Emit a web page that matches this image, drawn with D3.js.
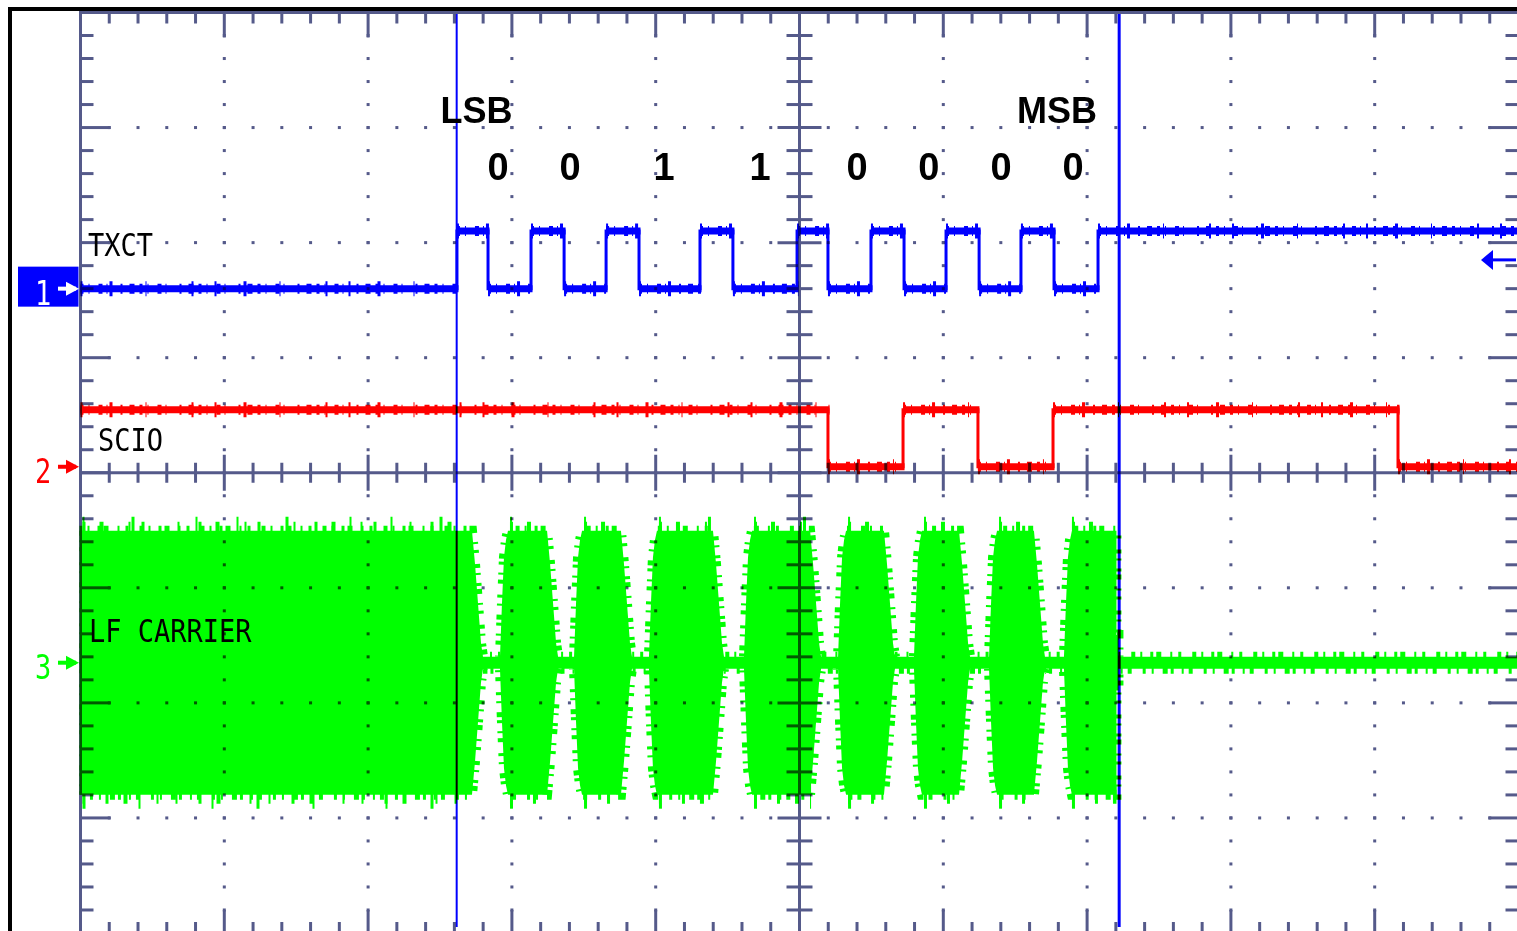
<!DOCTYPE html>
<html lang="en">
<head>
<meta charset="UTF-8">
<title>TXCT / SCIO / LF carrier</title>
<script src="https://cdn.jsdelivr.net/npm/d3@7/dist/d3.min.js"></script>
<style>
    html, body { margin: 0; padding: 0; background: #fff; overflow: hidden; }
    .scope { font-family: "DejaVu Sans Mono", "Liberation Mono", monospace; font-size: 27px; }
    .note { font-family: "Liberation Sans", Arial, sans-serif; font-weight: bold; }
</style>
</head>
<body>
<svg id="mainsvg" width="1517" height="931"></svg>
<script>
    // time in divisions (0..10), levels in divisions (-4..4, 0 = centre line)
    const txctEdges = [2.618, 2.834, 3.133, 3.363, 3.655, 3.884, 4.308, 4.537, 4.983,
                       5.198, 5.497, 5.727, 6.019, 6.249, 6.540, 6.770, 7.076];
    const txctLevels = [1.60, 2.10];          // low, high
    const scioEdges = [5.198, 5.720, 6.241, 6.763, 9.162];
    const scioLevels = [0.547, 0.052];        // starts high, then low
    const carrierCentre = -1.651;
    const carrierAmp = 1.147;
    const carrierIdle = 0.052;
    const carrierBursts = [[0, 2.792], [2.931, 3.314], [3.446, 3.828], [3.967, 4.468],
                           [4.628, 5.143], [5.282, 5.657], [5.810, 6.179], [6.332, 6.700],
                           [6.853, 7.211]];   // last one is cut off at the cursor
    const cursors = [2.616, 7.223];
    const bitValues = ['0', '0', '1', '1', '0', '0', '0', '0'];
    const bitPos = [2.903, 3.404, 4.058, 4.725, 5.400, 5.900, 6.401, 6.902];
    const byteEnds = ['LSB', 'MSB'];
    const byteEndPos = [2.754, 6.791];
    const channelNames = ['TXCT', 'SCIO', 'LF CARRIER'];
    const channelNamePos = [[0.052, 1.885], [0.122, 0.191], [0.059, -1.468]];
    const channelGround = [1.60, 0.052, -1.651];
    const triggerLevel = 1.85;

    const svg = d3.select('#mainsvg');
    const width = +svg.attr('width');
    const height = +svg.attr('height');
    const x = d3.scaleLinear().domain([0, 10]).range([80.5, 1518.5]);
    const y = d3.scaleLinear().domain([-4, 4]).range([933, 12.5]);

    const gridColor = '#555a8a';
    const colors = ['#0000ff', '#ff0000', '#00ff00'];

    svg.append('rect').attr('width', width).attr('height', height).attr('fill', '#fff');

    // screen frame
    svg.append('path').attr('d', `M10,${height} V9 H${width}`)
        .attr('fill', 'none').attr('stroke', '#000').attr('stroke-width', 4);

    svg.append('clipPath').attr('id', 'plotclip')
        .append('rect').attr('x', x(0) - 1).attr('y', y(4)).attr('width', width).attr('height', height);

    const traces = svg.append('g').attr('clip-path', 'url(#plotclip)');

    // ---- channel 3: LF carrier
    const cy = y(carrierCentre);
    const A = y(0) - y(carrierAmp);
    const I = y(0) - y(carrierIdle);
    const env = [];
    const plateaus = [];
    carrierBursts.forEach(([on, off], i) => {
        const a = x(on), b = x(off);
        let p0;
        if (on <= 0) { env.push([x(0) - 2, A]); p0 = x(0); }
        else {
            env.push([a - 2, I], [a, 0.45 * A], [a + 2, 0.8 * A], [a + 4, 0.93 * A], [a + 6, A]);
            p0 = a + 6;
        }
        if (i === carrierBursts.length - 1) {
            env.push([b - 1, A], [b - 1, 0.21 * A], [b + 1, 0.21 * A], [b + 1, I]);
            plateaus.push([p0, b - 1]);
        } else {
            env.push([b - 10, A], [b - 7, 0.75 * A], [b - 4, 0.45 * A], [b - 1, 0.15 * A], [b + 1, I]);
            plateaus.push([p0 + 2, b - 9]);
        }
    });
    env.push([width + 5, I]);
    const outline = env.map(([px, h]) => [px, cy - h])
        .concat(env.slice().reverse().map(([px, h]) => [px, cy + h]));
    const area = d3.line()(outline) + 'Z';
    traces.append('path').attr('d', area).attr('fill', colors[2]);
    traces.append('path').attr('d', area).attr('fill', 'none').attr('stroke', colors[2])
        .attr('stroke-width', 10).attr('stroke-dasharray', '4 5 2 8 3 3 5 9 2 6 3 11');
    // taller spikes only on the burst tops and bottoms
    const spikeG = traces.append('g').attr('stroke', colors[2]).attr('fill', 'none');
    [-1, 1].forEach(s => {
        spikeG.selectAll(null).data(plateaus).join('line')
            .attr('x1', d => d[0]).attr('x2', d => d[1])
            .attr('y1', cy + s * A).attr('y2', cy + s * A)
            .attr('stroke-width', 18)
            .attr('stroke-dasharray', s < 0 ? '3 14 4 25 2 11 3 33 2 19' : '2 21 3 15 4 29 2 17');
        spikeG.selectAll(null).data(plateaus).join('line')
            .attr('x1', d => d[0]).attr('x2', d => d[1])
            .attr('y1', cy + s * A).attr('y2', cy + s * A)
            .attr('stroke-width', 28)
            .attr('stroke-dasharray', s < 0 ? '2 47 3 61 2 39' : '3 53 2 71 2 43');
    });

    // ---- step traces
    function drawStep(edges, levels, color) {
        const pts = [[0, levels[0]]];
        edges.forEach((e, i) => pts.push([e, levels[(i + 1) % 2]]));
        pts.push([10.2, pts[pts.length - 1][1]]);
        const line = d3.line().x(d => x(d[0])).y(d => y(d[1])).curve(d3.curveStepAfter);
        traces.append('path').attr('d', line(pts)).attr('fill', 'none')
            .attr('stroke', color).attr('stroke-width', 3);
        const segs = pts.slice(0, -1).map((p, i) => [p[0], pts[i + 1][0], p[1]]);
        const g = traces.append('g').attr('stroke', color).attr('fill', 'none');
        const seg = (w, dash) => g.selectAll(null).data(segs).join('line')
            .attr('x1', d => x(d[0])).attr('x2', d => x(d[1]) + 1.5)
            .attr('y1', d => y(d[2])).attr('y2', d => y(d[2]))
            .attr('stroke-width', w).attr('stroke-dasharray', dash);
        seg(7, null);
        seg(10, '3 5 1 9 4 4 1 13 2 7 5 5');
        seg(15, '2 27 3 33 1 45 2 21');
    }
    drawStep(scioEdges, scioLevels, colors[1]);
    drawStep(txctEdges, txctLevels, colors[0]);

    // ---- graticule (multiplied over the traces, like the scope display)
    const grid = svg.append('g').style('mix-blend-mode', 'multiply')
        .attr('stroke', gridColor).attr('fill', gridColor).attr('stroke-width', 3);
    const isMajor = v => Math.abs(v - Math.round(v)) < 1e-6;
    const minorX = d3.range(51).map(i => i * 0.2);
    const minorY = d3.range(41).map(i => -4 + i * 0.2);
    const innerX = minorX.filter(v => v > 0.01 && v < 9.99);
    const innerY = minorY.filter(v => v > -3.99 && v < 3.99);

    grid.append('rect').attr('x', x(0)).attr('y', y(4)).attr('width', x(10) - x(0))
        .attr('height', y(-4) - y(4)).attr('fill', 'none');
    grid.append('line').attr('x1', x(5)).attr('x2', x(5)).attr('y1', y(4)).attr('y2', y(-4));
    grid.append('line').attr('x1', x(0)).attr('x2', x(10)).attr('y1', y(0)).attr('y2', y(0));

    const ticks = (data, f) => grid.selectAll(null).data(data).join('line').each(function (v) {
        const [x1, y1, x2, y2] = f(v);
        d3.select(this).attr('x1', x1).attr('y1', y1).attr('x2', x2).attr('y2', y2);
    });
    ticks(innerY, v => [x(0), y(v), x(0) + (isMajor(v) ? 30 : 13), y(v)]);
    ticks(innerY, v => [x(10), y(v), x(10) - (isMajor(v) ? 30 : 13), y(v)]);
    ticks(innerX, v => [x(v), y(4), x(v), y(4) + (isMajor(v) ? 25 : 11)]);
    ticks(innerX, v => [x(v), y(-4), x(v), y(-4) - (isMajor(v) ? 23 : 11)]);
    ticks(innerY, v => { const l = isMajor(v) ? 22 : 13; return [x(5) - l, y(v), x(5) + l, y(v)]; });
    ticks(innerX, v => { const l = isMajor(v) ? 18 : 10; return [x(v), y(0) - l, x(v), y(0) + l]; });

    const dots = [];
    innerX.filter(isMajor).filter(v => v !== 5).forEach(vx => innerY.forEach(vy => dots.push([vx, vy])));
    innerY.filter(isMajor).filter(v => Math.abs(v) > 0.01).forEach(vy => innerX.forEach(vx => dots.push([vx, vy])));
    grid.selectAll(null).data(dots).join('rect')
        .attr('stroke', 'none')
        .attr('x', d => x(d[0]) - 1.5).attr('y', d => y(d[1]) - 1.5)
        .attr('width', 3).attr('height', 3);

    // ---- cursors
    svg.append('g').style('mix-blend-mode', 'multiply')
        .selectAll('line').data(cursors).join('line')
        .attr('x1', d => x(d)).attr('x2', d => x(d))
        .attr('y1', y(4) + 1.5).attr('y2', 927)
        .attr('stroke', colors[0]).attr('stroke-width', (d, i) => i === 0 ? 2 : 3);

    // ---- channel names
    svg.append('g').attr('class', 'scope').selectAll('text').data(channelNames).join('text')
        .attr('transform', (d, i) => `translate(${x(channelNamePos[i][0])},${y(channelNamePos[i][1])}) scale(1,1.17)`)
        .attr('fill', '#000').text(d => d);

    // ---- channel ground markers
    const mk = svg.append('g').attr('class', 'scope');
    mk.append('rect').attr('x', 18).attr('y', y(channelGround[0]) - 22)
        .attr('width', x(0) - 20).attr('height', 40).attr('fill', colors[0]);
    channelGround.forEach((g, i) => {
        const c = i === 0 ? '#fff' : colors[i];
        const gy = y(g);
        mk.append('text').attr('transform', `translate(43,${gy + 16}) scale(1,1.22)`)
            .attr('text-anchor', 'middle').attr('fill', c).text(i + 1);
        mk.append('line').attr('x1', 58).attr('x2', 76).attr('y1', gy).attr('y2', gy)
            .attr('stroke', c).attr('stroke-width', 4);
        mk.append('path').attr('d', `M66,${gy - 7} L79,${gy} L66,${gy + 7} Z`).attr('fill', c);
    });

    // trigger level arrow on the right
    const ty = y(triggerLevel);
    mk.append('line').attr('x1', 1486).attr('x2', 1516).attr('y1', ty).attr('y2', ty)
        .attr('stroke', colors[0]).attr('stroke-width', 3);
    mk.append('path').attr('d', `M1493,${ty - 10} L1481,${ty} L1493,${ty + 10} Z`).attr('fill', colors[0]);

    // ---- bit annotations
    const notes = svg.append('g').attr('class', 'note').attr('fill', '#000').attr('text-anchor', 'middle');
    notes.selectAll('text.end').data(byteEnds).join('text').attr('class', 'end')
        .attr('x', (d, i) => x(byteEndPos[i])).attr('y', y(3.041))
        .attr('font-size', 36).text(d => d);
    notes.selectAll('text.bit').data(bitValues).join('text').attr('class', 'bit')
        .attr('x', (d, i) => x(bitPos[i])).attr('y', y(2.546))
        .attr('font-size', 38).text(d => d);
</script>
</body>
</html>
